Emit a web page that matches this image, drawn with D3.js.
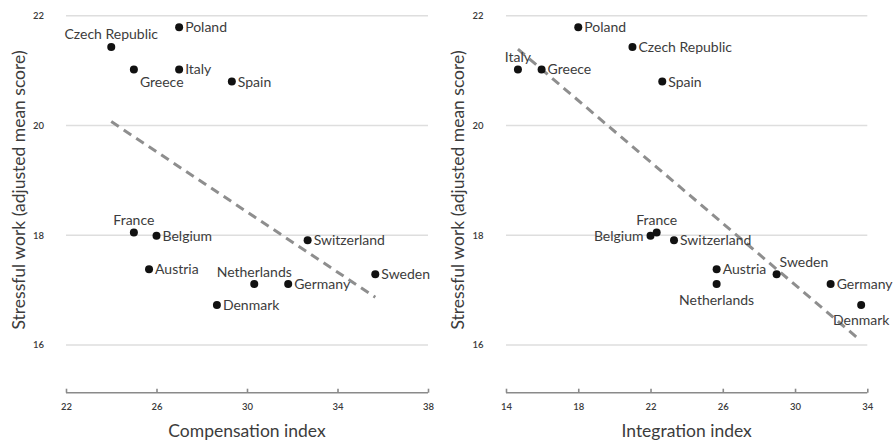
<!DOCTYPE html>
<html>
<head>
<meta charset="utf-8">
<script src="https://cdn.jsdelivr.net/npm/d3@7/dist/d3.min.js"></script>
<style>
  html, body { margin: 0; padding: 0; background: #fff; }
  svg { display: block; font-family: Lato, "Open Sans", sans-serif; }
</style>
</head>
<body>
<svg id="chart" width="894" height="442"></svg>
<script>
// ---------- Data ----------
const countries = ["Czech Republic","Poland","Greece","Italy","Spain","France","Belgium",
                   "Switzerland","Austria","Sweden","Netherlands","Germany","Denmark"];
const stressful = [21.43, 21.79, 21.02, 21.02, 20.80, 18.05, 17.99,
                   17.91, 17.38, 17.29, 17.11, 17.11, 16.73];
const compensation = [24.0, 27.0, 25.0, 27.0, 29.33, 25.0, 26.0,
                      32.68, 25.67, 35.67, 30.32, 31.82, 28.67];
const integration  = [21.0, 18.0, 15.97, 14.66, 22.65, 22.34, 22.0,
                      23.3, 25.66, 28.98, 25.66, 31.97, 33.66];
// fitted trend line endpoints [x, y]
const trendCompensation = [[24.0, 20.07], [35.67, 16.87]];
const trendIntegration  = [[14.66, 21.39], [33.63, 16.08]];
const xTicksCompensation = [22, 26, 30, 34, 38];
const xTicksIntegration  = [14, 18, 22, 26, 30, 34];
const yTicks = [16, 18, 20, 22];

// label placement per panel (r = right, a = above, br = below-right, b = below, l = left, ar = above-right)
const labelPosCompensation = {"Czech Republic":"a","Poland":"r","Greece":"br","Italy":"r","Spain":"r",
  "France":"a","Belgium":"r","Switzerland":"r","Austria":"r","Sweden":"r","Netherlands":"a",
  "Germany":"r","Denmark":"r"};
const labelPosIntegration = {"Czech Republic":"r","Poland":"r","Greece":"r","Italy":"a","Spain":"r",
  "France":"a","Belgium":"l","Switzerland":"r","Austria":"r","Sweden":"ar","Netherlands":"b",
  "Germany":"r","Denmark":"b"};

// ---------- Drawing ----------
const svg = d3.select("#chart");

function panel(opts) {
  const g = svg.append("g");
  const x = d3.scaleLinear().domain(opts.xDomain).range([opts.x0, opts.x1]);
  const y = d3.scaleLinear().domain([15.13, 22]).range([392.7, 15.7]);

  // gridlines
  g.append("g").selectAll("line").data(yTicks).join("line")
    .attr("x1", opts.x0).attr("x2", opts.x1)
    .attr("y1", d => y(d)).attr("y2", d => y(d))
    .attr("stroke", "#dedede").attr("stroke-width", 1.5);

  // y tick labels
  g.append("g").selectAll("text").data(yTicks).join("text")
    .attr("x", opts.yLabelX).attr("y", d => y(d)).attr("dy", "0.35em")
    .attr("text-anchor", "middle").attr("font-size", 9.5).attr("fill", "#3a3a3a")
    .attr("font-weight", 600)
    .text(d => d);

  // x axis
  const ax = g.append("g").attr("transform", `translate(0,${y(15.13)})`)
    .call(d3.axisBottom(x).tickValues(opts.xTicks).tickSize(-4).tickPadding(10).tickFormat(d3.format("d")));
  ax.select(".domain").attr("stroke", "#8a8a8a").attr("stroke-width", 1.6)
    .attr("d", `M${opts.x0},0H${opts.x1}`);
  ax.selectAll(".tick line").attr("stroke", "#8a8a8a").attr("stroke-width", 1.6);
  ax.selectAll(".tick text").attr("font-size", 9.5).attr("fill", "#3a3a3a")
    .attr("font-weight", 600)
    .attr("font-family", "Lato, sans-serif").attr("y", 11);

  // trend line
  g.append("path")
    .datum(opts.trend)
    .attr("d", d3.line().x(d => x(d[0])).y(d => y(d[1])))
    .attr("fill", "none").attr("stroke", "#8e8e8e").attr("stroke-width", 3)
    .attr("stroke-dasharray", "9,6");

  const pts = countries.map((c, i) => ({c, x: opts.xs[i], y: stressful[i]}));

  // dots
  g.append("g").selectAll("circle").data(pts).join("circle")
    .attr("cx", d => x(d.x)).attr("cy", d => y(d.y)).attr("r", 4)
    .attr("fill", "#111");

  // labels
  const off = {
    r:  {dx: 6,  dy: 5,    a: "start"},
    a:  {dx: 0,  dy: -7.5, a: "middle"},
    br: {dx: 6,  dy: 18,   a: "start"},
    b:  {dx: 0,  dy: 20.5, a: "middle"},
    l:  {dx: -7, dy: 5,    a: "end"},
    ar: {dx: 3,  dy: -7,   a: "start"}
  };
  g.append("g").selectAll("text").data(pts).join("text")
    .attr("x", d => x(d.x) + off[opts.pos[d.c]].dx)
    .attr("y", d => y(d.y) + off[opts.pos[d.c]].dy)
    .attr("text-anchor", d => off[opts.pos[d.c]].a)
    .attr("font-size", 14).attr("fill", "#3c3c3c")
    .text(d => d.c);

  // axis titles
  g.append("text")
    .attr("x", (opts.x0 + opts.x1) / 2).attr("y", 436.5)
    .attr("text-anchor", "middle").attr("font-size", 17.5).attr("fill", "#3c3c3c")
    .text(opts.xTitle);
  g.append("text")
    .attr("transform", `translate(${opts.yTitleX},190) rotate(-90)`)
    .attr("text-anchor", "middle").attr("dy", "0.35em")
    .attr("font-size", 17.5).attr("fill", "#3c3c3c")
    .text("Stressful work (adjusted mean score)");
}

panel({xDomain: [22, 38], x0: 66, x1: 428, xTicks: xTicksCompensation, xs: compensation,
       trend: trendCompensation, pos: labelPosCompensation, yLabelX: 38.5, yTitleX: 18.5,
       xTitle: "Compensation index"});
panel({xDomain: [14, 34], x0: 506, x1: 867.3, xTicks: xTicksIntegration, xs: integration,
       trend: trendIntegration, pos: labelPosIntegration, yLabelX: 478, yTitleX: 458,
       xTitle: "Integration index"});
</script>
</body>
</html>
